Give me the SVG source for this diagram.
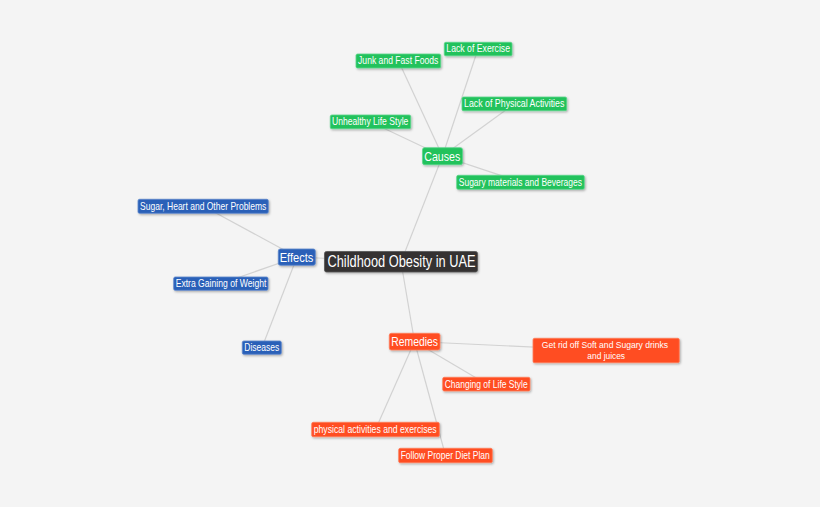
<svg xmlns="http://www.w3.org/2000/svg" width="820" height="507" viewBox="0 0 820 507">
<defs>
<filter id="sh" x="-10%" y="-30%" width="130%" height="180%">
<feDropShadow dx="1" dy="1.2" stdDeviation="0.8" flood-color="#000" flood-opacity="0.3"/>
</filter>
<style>
.bg{fill:#f4f4f4}
.ln{stroke:#d2d2d2;stroke-width:1.2;fill:none}
.g{fill:#22c25c;stroke:#5ad68a;stroke-width:0.8;filter:url(#sh)}
.b{fill:#2c61b8;stroke:#5c86cc;stroke-width:0.8;filter:url(#sh)}
.o{fill:#ff4e21;stroke:#ff7d5c;stroke-width:0.8;filter:url(#sh)}
.c{fill:#353332;stroke:#555;stroke-width:0.8;filter:url(#sh)}
text{font-family:"Liberation Sans Narrow","Liberation Sans",Arial,sans-serif;fill:#fff;text-anchor:middle}
.s{font-size:10.5px}
.t{font-size:9.6px}
.m{font-size:13.5px}
.l{font-size:16px}
</style>
</defs>
<rect class="bg" x="0" y="0" width="820" height="507"/>
<g id="connectors">
<line class="ln" x1="401" y1="262" x2="442.5" y2="156"/>
<line class="ln" x1="401" y1="262" x2="297" y2="257"/>
<line class="ln" x1="401" y1="262" x2="414.5" y2="341.5"/>
<line class="ln" x1="442.5" y1="156" x2="398.5" y2="61"/>
<line class="ln" x1="442.5" y1="156" x2="478" y2="49"/>
<line class="ln" x1="442.5" y1="156" x2="514" y2="104"/>
<line class="ln" x1="442.5" y1="156" x2="370.5" y2="122"/>
<line class="ln" x1="442.5" y1="156" x2="520.5" y2="182"/>
<line class="ln" x1="297" y1="257" x2="203" y2="206"/>
<line class="ln" x1="297" y1="257" x2="221" y2="283.5"/>
<line class="ln" x1="297" y1="257" x2="262" y2="347.5"/>
<line class="ln" x1="414.5" y1="341.5" x2="606" y2="350.5"/>
<line class="ln" x1="414.5" y1="341.5" x2="486.5" y2="384"/>
<line class="ln" x1="414.5" y1="341.5" x2="375.5" y2="429.5"/>
<line class="ln" x1="414.5" y1="341.5" x2="445.5" y2="455.5"/>
</g>
<g id="n-central"><rect class="c" x="324.5" y="251.5" width="153" height="20.5" rx="2"/><text class="l" x="401.5" y="266.7" textLength="148" lengthAdjust="spacingAndGlyphs">Childhood Obesity in UAE</text></g>
<g id="n-causes"><rect class="g" x="422.5" y="147.7" width="40" height="17" rx="2"/><text class="m" x="442.3" y="160.5" textLength="36" lengthAdjust="spacingAndGlyphs">Causes</text></g>
<g id="n-lack-exercise"><rect class="g" x="444.3" y="42.3" width="67.7" height="13.5" rx="1.5"/><text class="s" x="478.2" y="52.3" textLength="63.7" lengthAdjust="spacingAndGlyphs">Lack of Exercise</text></g>
<g id="n-junk"><rect class="g" x="356" y="54" width="84.7" height="14" rx="1.5"/><text class="s" x="398.2" y="64.2" textLength="80.3" lengthAdjust="spacingAndGlyphs">Junk and Fast Foods</text></g>
<g id="n-lack-physical"><rect class="g" x="462" y="97" width="104.7" height="13.7" rx="1.5"/><text class="s" x="514.2" y="107.2" textLength="100.3" lengthAdjust="spacingAndGlyphs">Lack of Physical Activities</text></g>
<g id="n-unhealthy"><rect class="g" x="330.3" y="115" width="80.4" height="13.7" rx="1.5"/><text class="s" x="370.2" y="125.2" textLength="76.3" lengthAdjust="spacingAndGlyphs">Unhealthy Life Style</text></g>
<g id="n-sugary"><rect class="g" x="456.7" y="175.3" width="127.6" height="14" rx="1.5"/><text class="s" x="520.4" y="185.5" textLength="123.3" lengthAdjust="spacingAndGlyphs">Sugary materials and Beverages</text></g>
<g id="n-effects"><rect class="b" x="278.3" y="249" width="37" height="16.3" rx="2"/><text class="m" x="296.5" y="261.5" textLength="33.7" lengthAdjust="spacingAndGlyphs">Effects</text></g>
<g id="n-sugar-heart"><rect class="b" x="138" y="199.3" width="130.3" height="14" rx="1.5"/><text class="s" x="203.2" y="209.5" textLength="126.3" lengthAdjust="spacingAndGlyphs">Sugar, Heart and Other Problems</text></g>
<g id="n-extra"><rect class="b" x="173.7" y="277" width="94.3" height="13.3" rx="1.5"/><text class="s" x="221" y="287" textLength="90.7" lengthAdjust="spacingAndGlyphs">Extra Gaining of Weight</text></g>
<g id="n-diseases"><rect class="b" x="242.3" y="341" width="39" height="13.3" rx="1.5"/><text class="s" x="261.8" y="351" textLength="35" lengthAdjust="spacingAndGlyphs">Diseases</text></g>
<g id="n-remedies"><rect class="o" x="389.3" y="333.3" width="50.7" height="16.7" rx="2"/><text class="m" x="414.7" y="346" textLength="46.7" lengthAdjust="spacingAndGlyphs">Remedies</text></g>
<g id="n-getrid"><rect class="o" x="533" y="338.3" width="146.3" height="24.4" rx="1.5"/><text class="t" x="604.9" y="347.6" textLength="126.3" lengthAdjust="spacingAndGlyphs">Get rid off Soft and Sugary drinks</text><text class="t" x="606.2" y="358.6" textLength="37.7" lengthAdjust="spacingAndGlyphs">and juices</text></g>
<g id="n-changing"><rect class="o" x="442.7" y="377.3" width="87.3" height="13.7" rx="1.5"/><text class="s" x="486.2" y="387.5" textLength="83" lengthAdjust="spacingAndGlyphs">Changing of Life Style</text></g>
<g id="n-physical"><rect class="o" x="311.7" y="422.3" width="127.6" height="14.4" rx="1.5"/><text class="s" x="375.2" y="432.6" textLength="123" lengthAdjust="spacingAndGlyphs">physical activities and exercises</text></g>
<g id="n-follow"><rect class="o" x="398.7" y="448.3" width="93.6" height="14.4" rx="1.5"/><text class="s" x="445.2" y="458.6" textLength="89" lengthAdjust="spacingAndGlyphs">Follow Proper Diet Plan</text></g>
</svg>
